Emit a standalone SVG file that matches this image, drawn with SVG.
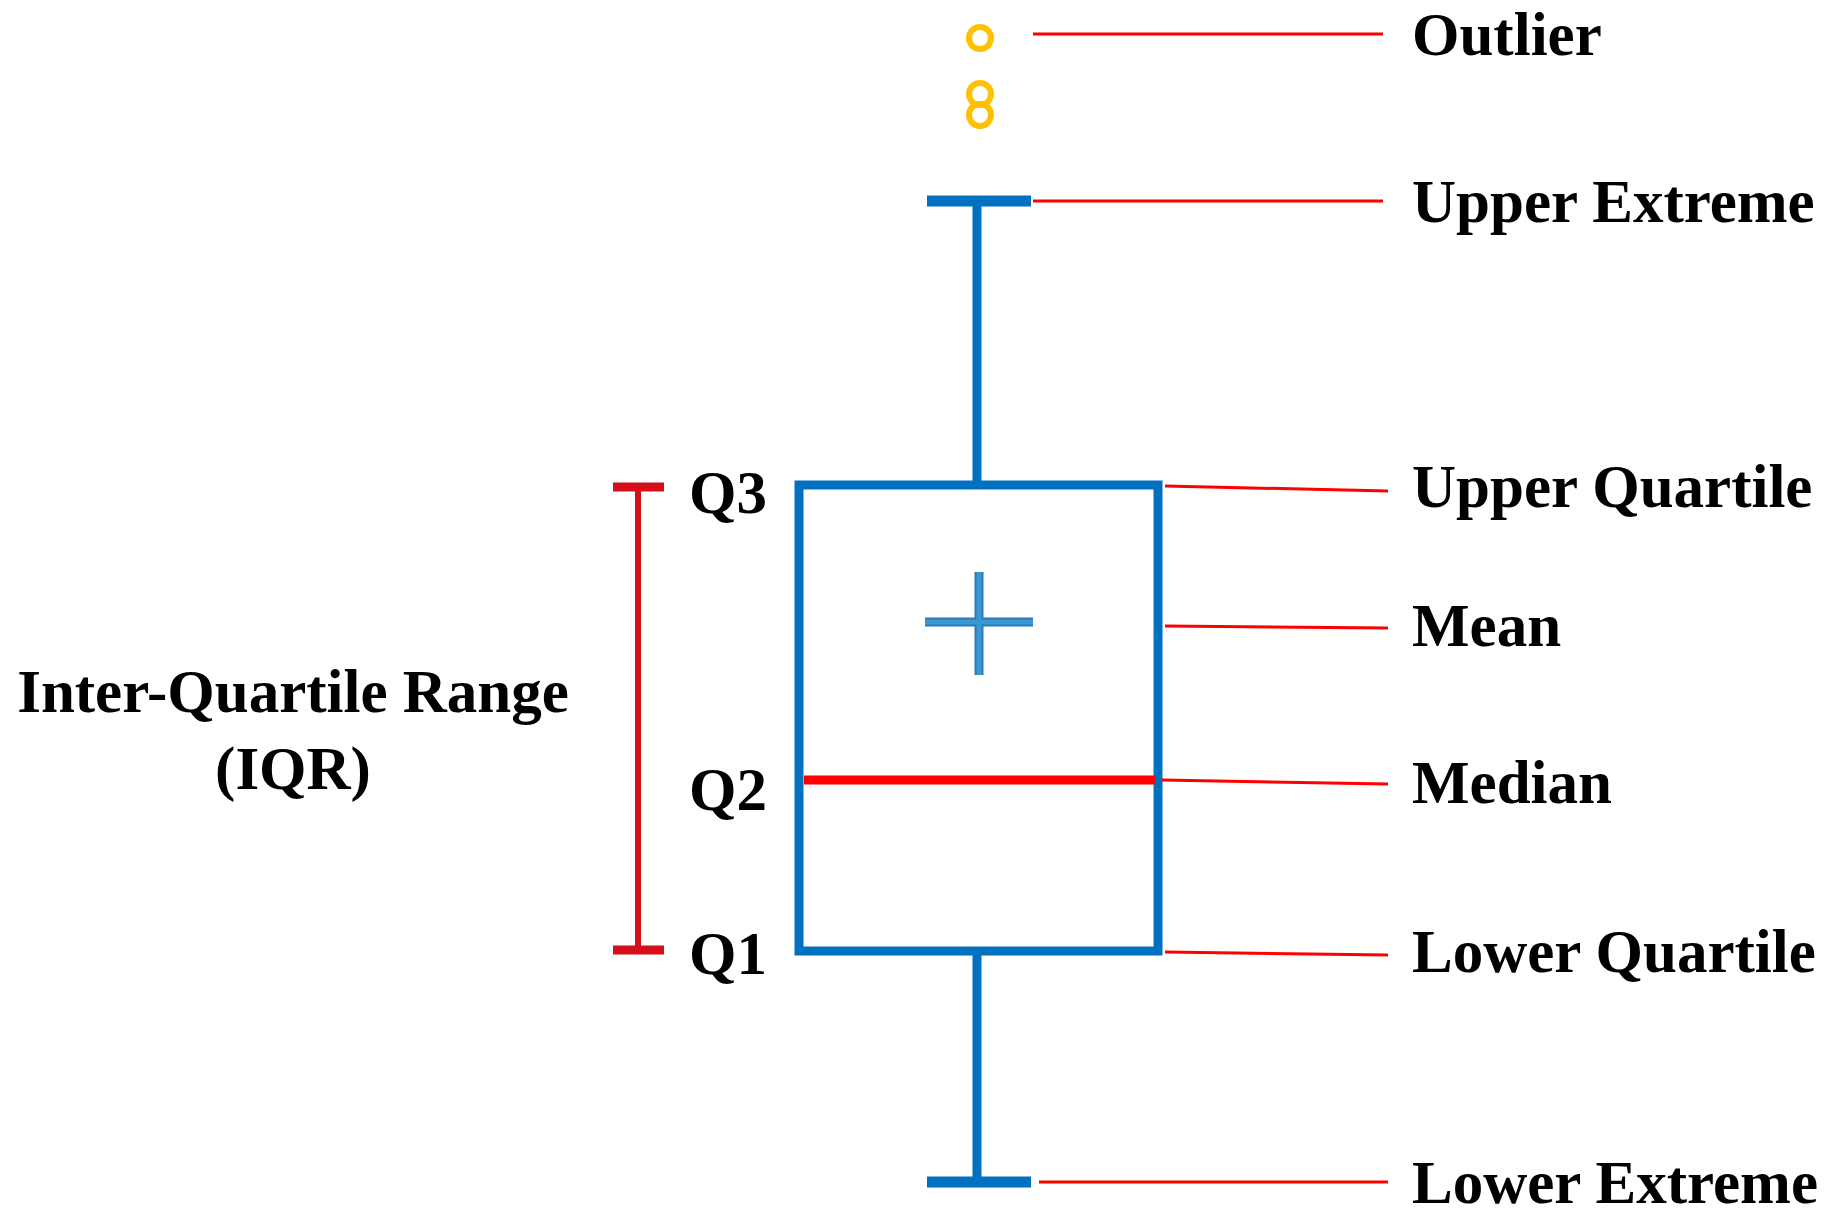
<svg xmlns="http://www.w3.org/2000/svg" width="1831" height="1220" viewBox="0 0 1831 1220">
<style>
text{font-family:"Liberation Serif","Times New Roman",serif;font-weight:bold;font-size:61px;fill:#000}
.lead{stroke:#ff0000;stroke-width:3;fill:none}
.blue{stroke:#0070c0;fill:none}
.out{stroke:#ffc000;stroke-width:6;fill:none}
</style>
<rect width="1831" height="1220" fill="#fff"/>
<g id="outliers">
<circle class="out" cx="980" cy="38" r="11"/>
<circle class="out" cx="980" cy="94" r="11"/>
<circle class="out" cx="980" cy="115" r="11"/>
</g>
<g id="upper-whisker">
<line class="blue" x1="927" y1="201" x2="1031" y2="201" stroke-width="11"/>
<line class="blue" x1="977" y1="201" x2="977" y2="485" stroke-width="9"/>
</g>
<g id="lower-whisker">
<line class="blue" x1="927" y1="1182" x2="1031" y2="1182" stroke-width="11"/>
<line class="blue" x1="977" y1="951" x2="977" y2="1182" stroke-width="9"/>
</g>
<g id="box">
<rect class="blue" x="799" y="485" width="359" height="466" stroke-width="9"/>
<line x1="804" y1="780" x2="1155" y2="780" stroke="#ff0000" stroke-width="9"/>
</g>
<g id="mean">
<path d="M925 622H1033M979 572V675" stroke="#2a7cb8" stroke-width="9" fill="none"/>
<path d="M925 622H1033M979 572V675" stroke="#3a97d2" stroke-width="5" fill="none"/>
</g>
<g id="iqr">
<line x1="638" y1="485" x2="638" y2="951" stroke="#d40f1a" stroke-width="6"/>
<line x1="613" y1="487" x2="664" y2="487" stroke="#d40f1a" stroke-width="9"/>
<line x1="613" y1="950" x2="664" y2="950" stroke="#d40f1a" stroke-width="9"/>
<text x="293" y="712" text-anchor="middle">Inter-Quartile Range</text>
<text x="293" y="789" text-anchor="middle">(IQR)</text>
<text x="689" y="513">Q3</text>
<text x="689" y="810">Q2</text>
<text x="689" y="974">Q1</text>
</g>
<g id="connectors">
<line class="lead" x1="1033" y1="34" x2="1383" y2="34"/>
<line class="lead" x1="1033" y1="201" x2="1383" y2="201"/>
<line class="lead" x1="1165" y1="486" x2="1388" y2="491"/>
<line class="lead" x1="1165" y1="626" x2="1388" y2="628"/>
<line class="lead" x1="1162" y1="780" x2="1388" y2="784"/>
<line class="lead" x1="1165" y1="952" x2="1388" y2="955"/>
<line class="lead" x1="1039" y1="1182" x2="1388" y2="1182"/>
</g>
<g id="labels">
<text x="1412" y="55">Outlier</text>
<text x="1412" y="222">Upper Extreme</text>
<text x="1412" y="507">Upper Quartile</text>
<text x="1412" y="646">Mean</text>
<text x="1412" y="803">Median</text>
<text x="1412" y="972">Lower Quartile</text>
<text x="1412" y="1203">Lower Extreme</text>
</g>
</svg>
